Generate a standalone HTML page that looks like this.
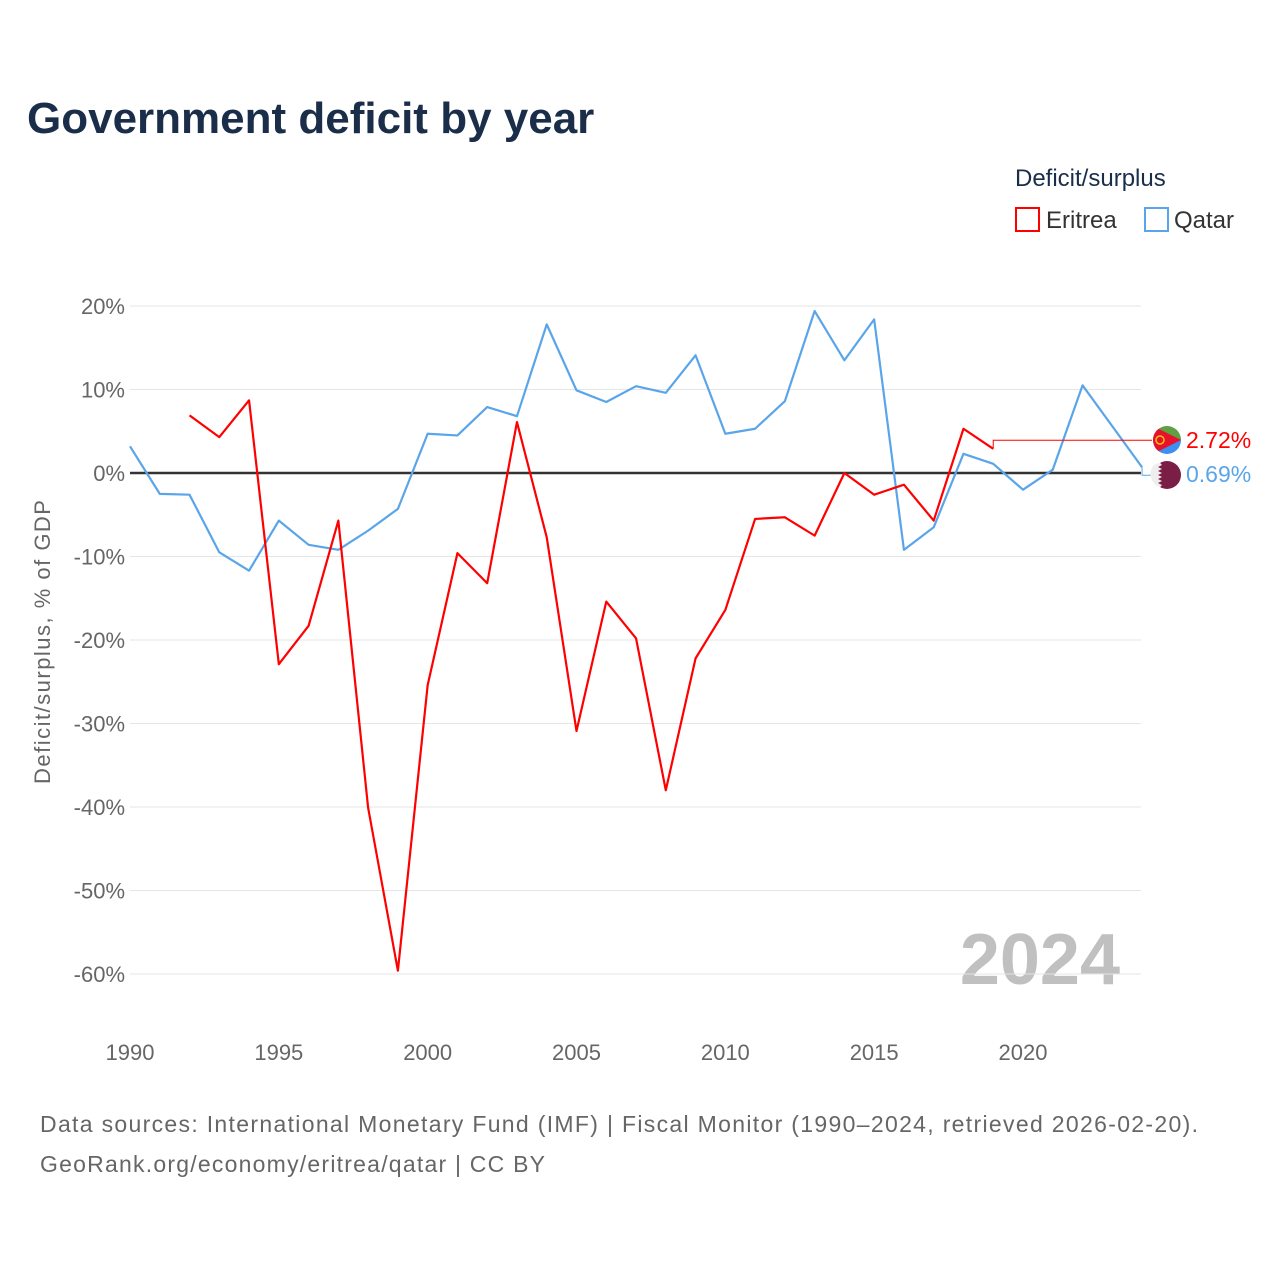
<!DOCTYPE html>
<html><head><meta charset="utf-8">
<style>
body{margin:0;background:#fff;font-family:"Liberation Sans",sans-serif;}
svg{display:block}
</style></head>
<body>
<svg id="chart" width="1280" height="1280" viewBox="0 0 1280 1280">
<text x="27" y="133" font-size="44" font-weight="bold" fill="#1a2e4a">Government deficit by year</text>
<g>
<text x="1015" y="186" font-size="24" fill="#1a2e4a">Deficit/surplus</text>
<rect x="1016" y="208" width="23" height="23" fill="none" stroke="#f00" stroke-width="2"/>
<text x="1046" y="228" font-size="24" fill="#333">Eritrea</text>
<rect x="1145" y="208" width="23" height="23" fill="none" stroke="#5aa5ea" stroke-width="2"/>
<text x="1174" y="228" font-size="24" fill="#333">Qatar</text>
</g>
<text transform="translate(50,642) rotate(-90)" text-anchor="middle" font-size="22" fill="#666" textLength="284">Deficit/surplus, % of GDP</text>
<text x="1120" y="984" text-anchor="end" font-size="72" font-weight="bold" fill="#c0c0c0">2024</text>
<g id="grid"></g>
<g id="series"></g>
<g id="labels"></g>
<text x="40" y="1132" font-size="23" fill="#666" textLength="1158">Data sources: International Monetary Fund (IMF) | Fiscal Monitor (1990–2024, retrieved 2026-02-20).</text>
<text x="40" y="1172" font-size="23" fill="#666" textLength="505">GeoRank.org/economy/eritrea/qatar | CC BY</text>
</svg>
<script>
const yTicks=[20,10,0,-10,-20,-30,-40,-50,-60];
const xTicks=[1990,1995,2000,2005,2010,2015,2020];
const eritreaYears=[1992,1993,1994,1995,1996,1997,1998,1999,2000,2001,2002,2003,2004,2005,2006,2007,2008,2009,2010,2011,2012,2013,2014,2015,2016,2017,2018,2019];
const eritreaValues=[6.9,4.3,8.7,-22.9,-18.3,-5.7,-40.1,-59.6,-25.4,-9.6,-13.2,6.1,-7.7,-30.9,-15.4,-19.8,-38.0,-22.2,-16.4,-5.5,-5.3,-7.5,0,-2.6,-1.4,-5.7,5.3,2.9];
const qatarYears=[1990,1991,1992,1993,1994,1995,1996,1997,1998,1999,2000,2001,2002,2003,2004,2005,2006,2007,2008,2009,2010,2011,2012,2013,2014,2015,2016,2017,2018,2019,2020,2021,2022,2023,2024];
const qatarValues=[3.2,-2.5,-2.6,-9.5,-11.7,-5.7,-8.6,-9.2,-6.9,-4.3,4.7,4.5,7.9,6.8,17.8,9.9,8.5,10.4,9.6,14.1,4.7,5.3,8.6,19.4,13.5,18.4,-9.2,-6.5,2.3,1.1,-2.0,0.4,10.5,5.6,0.69];
const eritreaLabel="2.72%", qatarLabel="0.69%";
const eritreaLast=2.72;
const NS="http://www.w3.org/2000/svg";
const x=yr=>130+(yr-1990)*(1023-130)/30;
const y=v=>473-v*8.35;
function mk(tag,attrs,parent){const e=document.createElementNS(NS,tag);for(const k in attrs)e.setAttribute(k,attrs[k]);parent.appendChild(e);return e;}
const grid=document.getElementById('grid'),series=document.getElementById('series'),labels=document.getElementById('labels');
yTicks.forEach(t=>{
 const l=mk('line',{x1:130,x2:1141,y1:y(t),y2:y(t),stroke:t===0?'#333':'#e5e5e5','stroke-width':t===0?2.5:1},grid);
 
 
 const tx=mk('text',{x:125,y:y(t)+8,'text-anchor':'end','font-size':22,fill:'#666'},grid);
 tx.textContent=t+'%';
 
 
});
xTicks.forEach(t=>{
 const tx=mk('text',{x:x(t),y:1060,'text-anchor':'middle','font-size':22,fill:'#666'},grid);
 tx.textContent=t;
 
 
});
function line(years,vals,color,name){
 const p=mk('polyline',{points:years.map((yr,i)=>x(yr)+','+y(vals[i])).join(' '),fill:'none',stroke:color,'stroke-width':2.2,'stroke-linejoin':'round'},series);
 
 
}
line(qatarYears,qatarValues,'#5aa5ea','qatar-line');
line(eritreaYears,eritreaValues,'#f00','eritrea-line');
const eLastX=x(eritreaYears[eritreaYears.length-1]),eLastY=y(eritreaValues[eritreaValues.length-1]);
const eLabY=y(eritreaLast);
const c1=mk('polyline',{points:`${eLastX},${eLastY} ${eLastX},${eLabY-10} 1152,${eLabY-10}`,fill:'none',stroke:'#f00','stroke-width':1},labels);


const qLastY=y(qatarValues[qatarValues.length-1]);
const c2=mk('polyline',{points:`${x(2024)},${qLastY} ${x(2024)},${qLastY+8} 1152,${qLastY+8}`,fill:'none',stroke:'#5aa5ea','stroke-width':1},labels);


const fE=mk('g',{},labels);


const cp=mk('clipPath',{id:'cE'},fE);
mk('circle',{cx:1167,cy:440,r:14},cp);
const gE=mk('g',{'clip-path':'url(#cE)'},fE);
mk('rect',{x:1153,y:426,width:28,height:14,fill:'#5fa043'},gE);
mk('rect',{x:1153,y:440,width:28,height:14,fill:'#3d8ff0'},gE);
mk('polygon',{points:'1153,426 1181,440 1153,454',fill:'#e8112d'},gE);
mk('circle',{cx:1160,cy:440,r:4,fill:'none',stroke:'#f4c400','stroke-width':1.5},gE);
const fQ=mk('g',{},labels);


mk('circle',{cx:1167,cy:475,r:14,fill:'#7a1e45'},fQ);
mk('path',{d:'M1153,466 A14,14 0 0 1 1160,462.8 L1162,465 1158,467 1162,469 1158,471 1162,473 1158,475 1162,477 1158,479 1162,481 1158,483 1162,485 1160,487.2 A14,14 0 0 1 1153,466 Z',fill:'#eee'},fQ);
const tE=mk('text',{x:1186,y:448,'font-size':23,fill:'#f00'},labels);
tE.textContent=eritreaLabel;


const tQ=mk('text',{x:1186,y:482,'font-size':23,fill:'#5aa5ea'},labels);
tQ.textContent=qatarLabel;


</script>
</body></html>
